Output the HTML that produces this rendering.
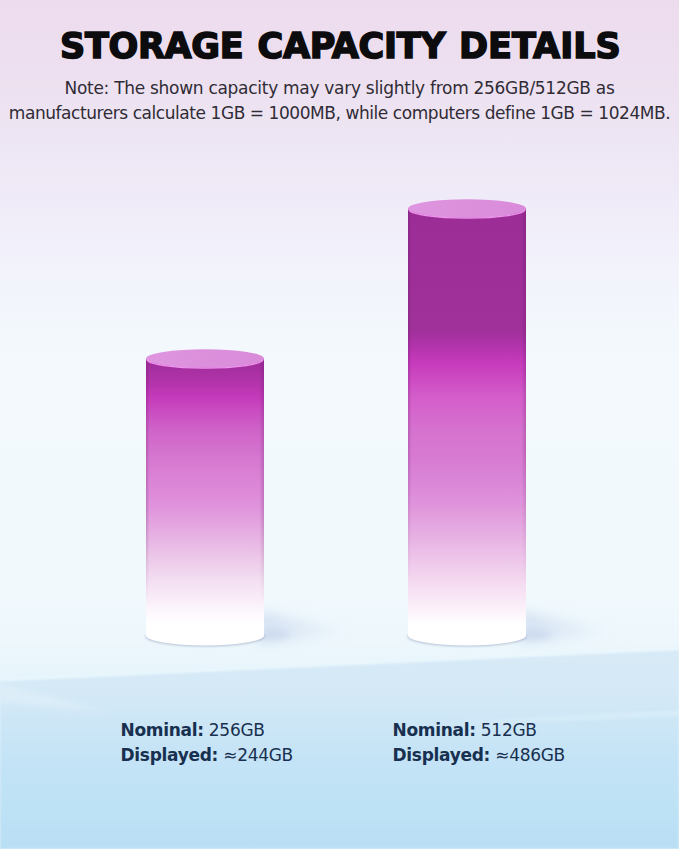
<!DOCTYPE html>
<html>
<head>
<meta charset="utf-8">
<style>
html,body{margin:0;padding:0;}
body{width:679px;height:849px;overflow:hidden;position:relative;background:#eef5fb;}
#bg{position:absolute;left:0;top:0;width:679px;height:849px;}
.t{position:absolute;white-space:nowrap;}
#title{left:0;top:24px;width:679px;height:44px;font-family:"DejaVu Sans",sans-serif;font-weight:bold;font-size:35px;line-height:44px;letter-spacing:-0.3px;-webkit-text-stroke:1.6px #0c0c0e;color:#0c0c0e;}
#title span{position:absolute;top:0;}
#w1{left:60px;}#w2{left:257.5px;}#w3{left:459px;letter-spacing:0;}
.note{left:0;width:679px;text-align:center;font-family:"DejaVu Sans",sans-serif;font-size:17px;line-height:25px;letter-spacing:-0.4px;color:#302c36;}
#n1{top:76px;letter-spacing:-0.285px;}
#n2{top:100.5px;letter-spacing:-0.44px;}
.lab{font-family:"DejaVu Sans",sans-serif;font-size:17px;line-height:25px;color:#18304f;letter-spacing:-0.3px;}
.lab b{font-weight:bold;}
</style>
</head>
<body>
<svg id="bg" width="679" height="849" viewBox="0 0 679 849">
<defs>
<linearGradient id="sky" gradientUnits="userSpaceOnUse" x1="0" y1="0" x2="0" y2="849">
<stop offset="0" stop-color="#eddcee"/>
<stop offset="0.07" stop-color="#eddfef"/>
<stop offset="0.16" stop-color="#ede5f3"/>
<stop offset="0.235" stop-color="#f0ebf8"/>
<stop offset="0.306" stop-color="#f2f2fb"/>
<stop offset="0.39" stop-color="#f3f8fd"/>
<stop offset="0.45" stop-color="#f3f9fd"/>
<stop offset="0.6" stop-color="#f2f9fd"/>
<stop offset="0.7" stop-color="#f1f9fd"/>
<stop offset="0.755" stop-color="#edf7fc"/>
<stop offset="0.8" stop-color="#e6f4fb"/>
<stop offset="1" stop-color="#e6f4fb"/>
</linearGradient>
<linearGradient id="floor" gradientUnits="userSpaceOnUse" x1="0" y1="650" x2="0" y2="849">
<stop offset="0" stop-color="#d8eaf7"/>
<stop offset="0.25" stop-color="#d3e8f6"/>
<stop offset="0.38" stop-color="#cce6f6"/>
<stop offset="0.55" stop-color="#c4e3f6"/>
<stop offset="0.75" stop-color="#bfe2f5"/>
<stop offset="1" stop-color="#b9dff4"/>
</linearGradient>
<linearGradient id="cylL" gradientUnits="userSpaceOnUse" x1="0" y1="359" x2="0" y2="646">
<stop offset="0" stop-color="#a42d9e"/>
<stop offset="0.031" stop-color="#a52f9f"/>
<stop offset="0.091" stop-color="#b534ad"/>
<stop offset="0.132" stop-color="#c53abb"/>
<stop offset="0.178" stop-color="#c94bc1"/>
<stop offset="0.247" stop-color="#cf63c8"/>
<stop offset="0.334" stop-color="#d575cf"/>
<stop offset="0.422" stop-color="#db84d6"/>
<stop offset="0.456" stop-color="#dd88d8"/>
<stop offset="0.519" stop-color="#e094dc"/>
<stop offset="0.578" stop-color="#e4a6e0"/>
<stop offset="0.641" stop-color="#e8b8e5"/>
<stop offset="0.704" stop-color="#edcbea"/>
<stop offset="0.763" stop-color="#f2dcf0"/>
<stop offset="0.826" stop-color="#f8ebf7"/>
<stop offset="0.885" stop-color="#fdf8fd"/>
<stop offset="0.927" stop-color="#ffffff"/>
<stop offset="1" stop-color="#ffffff"/>
</linearGradient>
<linearGradient id="cylR" gradientUnits="userSpaceOnUse" x1="0" y1="209.5" x2="0" y2="646">
<stop offset="0.0000" stop-color="#9c2d97"/>
<stop offset="0.2761" stop-color="#a0309a"/>
<stop offset="0.3104" stop-color="#b033aa"/>
<stop offset="0.3494" stop-color="#c63abb"/>
<stop offset="0.4273" stop-color="#d35cca"/>
<stop offset="0.5052" stop-color="#d672cf"/>
<stop offset="0.5624" stop-color="#d779d1"/>
<stop offset="0.6197" stop-color="#da85d7"/>
<stop offset="0.6770" stop-color="#df94db"/>
<stop offset="0.7342" stop-color="#e5abe1"/>
<stop offset="0.7915" stop-color="#ecc2e8"/>
<stop offset="0.8488" stop-color="#f3d8f0"/>
<stop offset="0.9061" stop-color="#faedf8"/>
<stop offset="0.9519" stop-color="#ffffff"/>
<stop offset="1.0000" stop-color="#ffffff"/>
</linearGradient>
<linearGradient id="topL" x1="0" y1="0" x2="1" y2="0">
<stop offset="0" stop-color="#df95df"/>
<stop offset="1" stop-color="#d98bd9"/>
</linearGradient>
<filter id="blur6" x="-50%" y="-50%" width="200%" height="200%"><feGaussianBlur stdDeviation="6"/></filter>
<filter id="blur3" x="-50%" y="-50%" width="200%" height="200%"><feGaussianBlur stdDeviation="3"/></filter>
<linearGradient id="rband" gradientUnits="userSpaceOnUse" x1="440" y1="0" x2="679" y2="0"><stop offset="0" stop-color="#e2f2fb" stop-opacity="0"/><stop offset="0.5" stop-color="#dcf0fb" stop-opacity="0.45"/><stop offset="1" stop-color="#dcf0fb" stop-opacity="0.6"/></linearGradient>
<linearGradient id="edgeL" gradientUnits="userSpaceOnUse" x1="146" y1="0" x2="264" y2="0"><stop offset="0" stop-color="#501050" stop-opacity="0.22"/><stop offset="0.03" stop-color="#501050" stop-opacity="0"/><stop offset="0.96" stop-color="#501050" stop-opacity="0"/><stop offset="1" stop-color="#501050" stop-opacity="0.2"/></linearGradient>
<linearGradient id="edgeR" gradientUnits="userSpaceOnUse" x1="408" y1="0" x2="526" y2="0"><stop offset="0" stop-color="#501050" stop-opacity="0.22"/><stop offset="0.03" stop-color="#501050" stop-opacity="0"/><stop offset="0.96" stop-color="#501050" stop-opacity="0"/><stop offset="1" stop-color="#501050" stop-opacity="0.2"/></linearGradient>
<linearGradient id="fg" x1="0" y1="0" x2="0" y2="1"><stop offset="0" stop-color="#fff"/><stop offset="0.55" stop-color="#fff"/><stop offset="0.85" stop-color="#000"/><stop offset="1" stop-color="#000"/></linearGradient>
<mask id="fadeL" maskUnits="userSpaceOnUse" x="140" y="340" width="130" height="320"><rect x="140" y="355" width="130" height="295" fill="url(#fg)"/></mask>
<mask id="fadeR" maskUnits="userSpaceOnUse" x="400" y="200" width="130" height="460"><rect x="400" y="205" width="130" height="445" fill="url(#fg)"/></mask>
<filter id="blur1" x="-50%" y="-50%" width="200%" height="200%"><feGaussianBlur stdDeviation="1"/></filter>
<linearGradient id="shL" gradientUnits="userSpaceOnUse" x1="258" y1="0" x2="355" y2="0"><stop offset="0" stop-color="#c3d2ec" stop-opacity="0.6"/><stop offset="1" stop-color="#c3d2ec" stop-opacity="0"/></linearGradient>
<linearGradient id="shR" gradientUnits="userSpaceOnUse" x1="520" y1="0" x2="617" y2="0"><stop offset="0" stop-color="#c3d2ec" stop-opacity="0.6"/><stop offset="1" stop-color="#c3d2ec" stop-opacity="0"/></linearGradient>
</defs>
<rect x="0" y="0" width="679" height="849" fill="url(#sky)"/>
<polygon points="0,681.5 679,650 679,849 0,849" fill="url(#floor)" filter="url(#blur1)"/>
<line x1="0" y1="679.5" x2="679" y2="648" stroke="#e9f7fd" stroke-width="2" opacity="0.8" filter="url(#blur1)"/>
<path d="M440,721 L679,710 L679,716 L440,727 Z" fill="url(#rband)" filter="url(#blur1)"/>
<path d="M0,684 L110,712 L0,702 Z" fill="#eef8fd" opacity="0.35" filter="url(#blur3)"/>
<!-- shadows -->
<g filter="url(#blur6)">
<path d="M258,610 L300,619 L355,631 L300,640 L258,644 Z" fill="url(#shL)"/>
<path d="M520,610 L562,619 L617,631 L562,640 L520,644 Z" fill="url(#shR)"/>
</g>
<g filter="url(#blur3)">
<ellipse cx="274" cy="635" rx="16" ry="5" fill="#bccbe6" opacity="0.4"/>
<ellipse cx="536" cy="635" rx="16" ry="5" fill="#bccbe6" opacity="0.4"/>
</g>
<ellipse cx="205" cy="636.5" rx="59.5" ry="10" fill="#8f9fbc" filter="url(#blur1)" opacity="0.6"/>
<ellipse cx="467" cy="636.5" rx="59.5" ry="10" fill="#8f9fbc" filter="url(#blur1)" opacity="0.6"/>
<!-- left cylinder -->
<path d="M146,358.5 L146,635.5 A59,10 0 0 0 264,635.5 L264,358.5 Z" fill="url(#cylL)"/>
<path d="M146,358.5 L146,635.5 A59,10 0 0 0 264,635.5 L264,358.5 Z" fill="url(#edgeL)" mask="url(#fadeL)"/>
<ellipse cx="205" cy="358.5" rx="59" ry="9.3" fill="url(#topL)"/>
<path d="M147,359.5 A58,8.6 0 0 0 263,359.5" fill="none" stroke="#f39af3" stroke-width="1.3" opacity="0.95"/>
<!-- right cylinder -->
<path d="M408,208.5 L408,635.5 A59,10 0 0 0 526,635.5 L526,208.5 Z" fill="url(#cylR)"/>
<path d="M408,208.5 L408,635.5 A59,10 0 0 0 526,635.5 L526,208.5 Z" fill="url(#edgeR)" mask="url(#fadeR)"/>
<ellipse cx="467" cy="208.5" rx="59" ry="9.3" fill="url(#topL)"/>
<path d="M409,209.5 A58,8.6 0 0 0 525,209.5" fill="none" stroke="#f39af3" stroke-width="1.3" opacity="0.95"/>
</svg>
<div id="title" class="t"><span id="w1">STORAGE</span> <span id="w2">CAPACITY</span> <span id="w3">DETAILS</span></div>
<div id="n1" class="t note">Note: The shown capacity may vary slightly from 256GB/512GB as</div>
<div id="n2" class="t note">manufacturers calculate 1GB = 1000MB, while computers define 1GB = 1024MB.</div>
<div class="t lab" style="left:120.5px;top:718px;"><b>Nominal:</b> 256GB</div>
<div class="t lab" style="left:120.5px;top:743px;"><b>Displayed:</b> ≈244GB</div>
<div class="t lab" style="left:392.5px;top:718px;"><b>Nominal:</b> 512GB</div>
<div class="t lab" style="left:392.5px;top:743px;"><b>Displayed:</b> ≈486GB</div>
</body>
</html>
